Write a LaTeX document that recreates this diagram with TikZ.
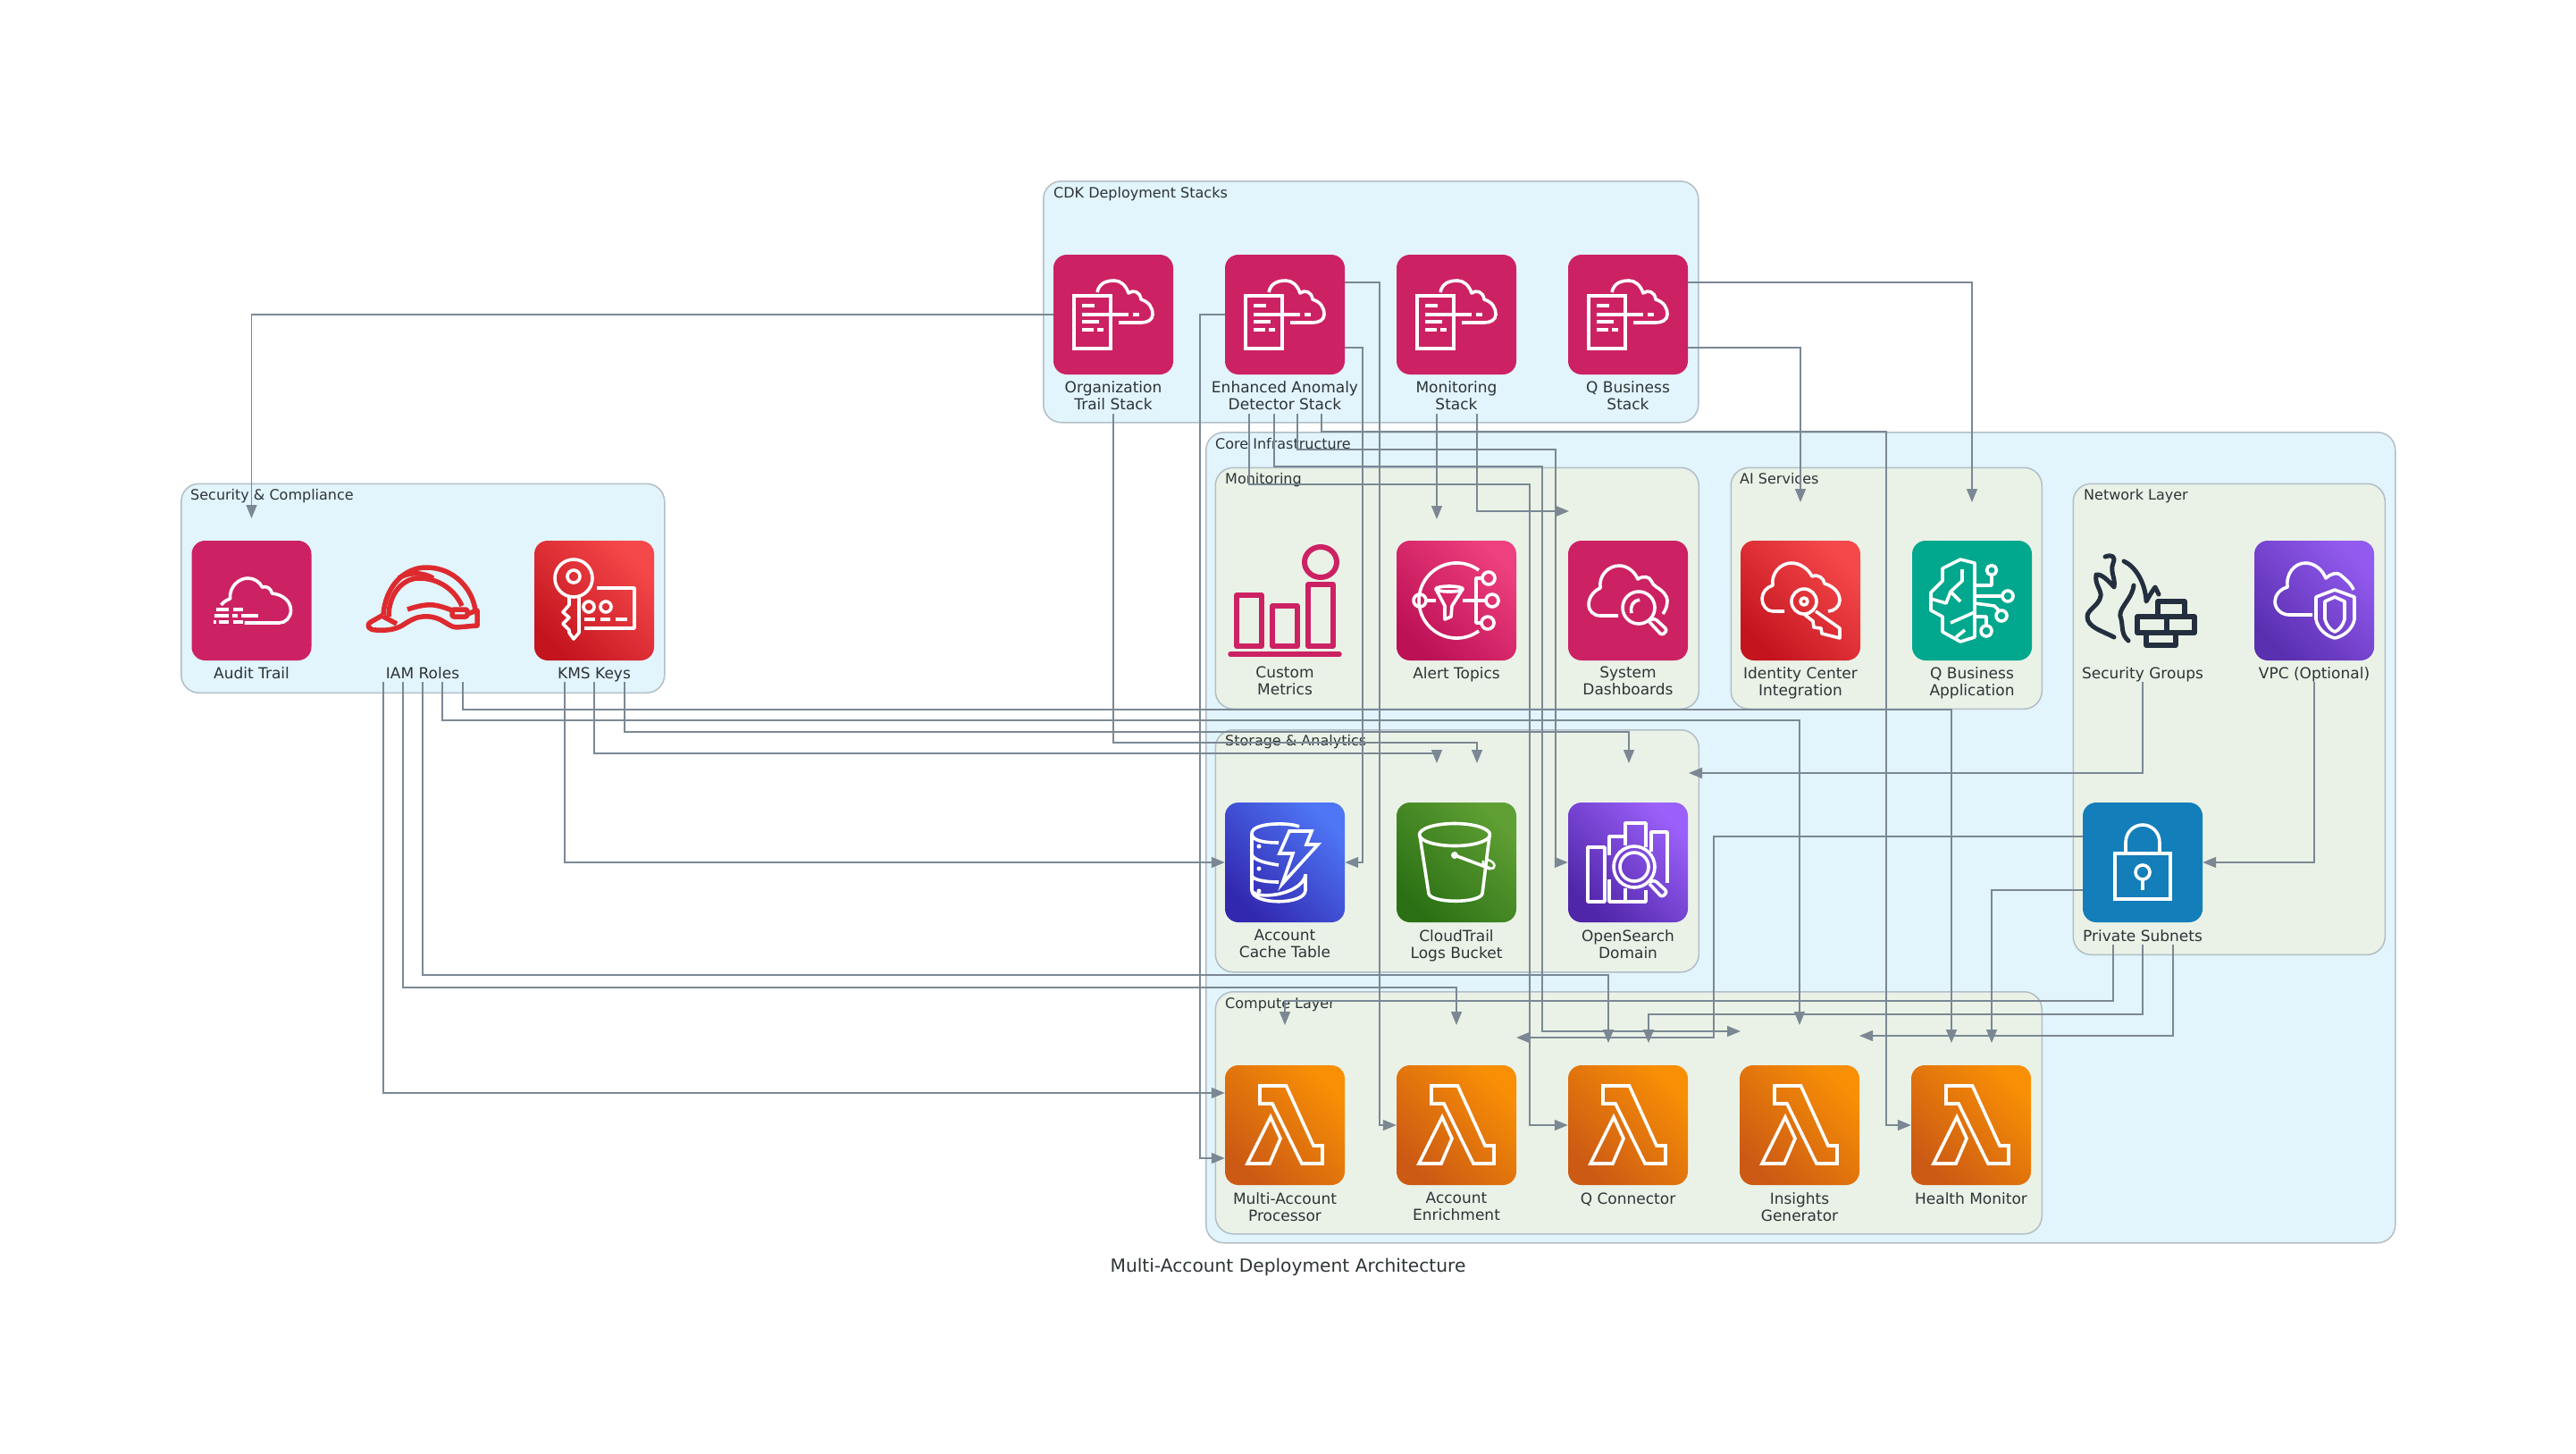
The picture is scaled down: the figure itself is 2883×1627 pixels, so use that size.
\documentclass[tikz,border=0pt]{standalone}
\usepackage{fontspec}
\setmainfont{DejaVu Sans}
\usetikzlibrary{arrows.meta}
\definecolor{linkgray}{HTML}{7B8894}
\definecolor{boxline}{HTML}{B2BEC6}
\definecolor{skyfill}{HTML}{E2F4FC}
\definecolor{sagefill}{HTML}{EAF2E7}
\definecolor{inktext}{HTML}{2D3436}
\definecolor{stackpink}{HTML}{CC2264}
\definecolor{qteal}{HTML}{01A88D}
\definecolor{lockblue}{HTML}{147EBA}
\definecolor{helmred}{HTML}{DD2A2E}
\definecolor{wallink}{HTML}{232F3E}
\definecolor{redlow}{HTML}{C4151F}
\definecolor{redhigh}{HTML}{F5484A}
\definecolor{pinklow}{HTML}{BD1156}
\definecolor{pinkhigh}{HTML}{EE3F7E}
\definecolor{vpclow}{HTML}{5A2FB0}
\definecolor{vpchigh}{HTML}{925AEE}
\definecolor{bluelow}{HTML}{3228B0}
\definecolor{bluehigh}{HTML}{4E76F5}
\definecolor{greenlow}{HTML}{2B7014}
\definecolor{greenhigh}{HTML}{5F9F34}
\definecolor{purplelow}{HTML}{5026A8}
\definecolor{purplehigh}{HTML}{9B60FA}
\definecolor{orangelow}{HTML}{CC5A14}
\definecolor{orangehigh}{HTML}{F88F05}
\tikzset{
	outerbox/.style={draw=boxline, fill=skyfill, line width=1.5pt, rounded corners=20pt, anchor=north west, inner sep=0pt},
	innerbox/.style={draw=boxline, fill=sagefill, line width=1.5pt, rounded corners=20pt, anchor=north west, inner sep=0pt},
	boxtitle/.style={text=inktext, anchor=base west, inner sep=0pt, font=\fontsize{16}{19}\selectfont},
	caption/.style={text=inktext, anchor=north, align=center, inner sep=0pt, font=\fontsize{17}{19}\selectfont,
		execute at begin node=\strut, execute at end node=\strut},
	flaticon/.style={rectangle, rounded corners=15pt, minimum size=134pt, inner sep=0pt, fill=#1},
	shadeicon/.style 2 args={rectangle, rounded corners=15pt, minimum size=134pt, inner sep=0pt,
		bottom color=#1, top color=#2, shading angle=-45},
	bareicon/.style={rectangle, minimum size=134pt, inner sep=0pt},
	glyph/.style={draw=white, line width=3.6pt, line join=round},
	link/.style={draw=linkgray, line width=1.4pt, -{Triangle[length=15pt,width=12pt]}},
	stackglyph/.pic={
		\draw[glyph, line join=miter] (-44,-21) rectangle (-3,38);
		\draw[glyph] (-35,-10) -- (-21,-10) (-35,0) -- (17,0) (22,0) -- (29,0) (-35,8) -- (-16,8)
			(-35,17) -- (-22,17) (-18,17) -- (-11,17);
		\draw[glyph] (-18,-25) .. controls (-16,-35) and (-8,-38) .. (1,-38) .. controls (8,-38) and (14,-33) .. (17,-24)
			.. controls (22,-28) and (30,-26) .. (31,-17) .. controls (40,-14) and (44,-8) .. (44,0)
			.. controls (44,6) and (38,9) .. (31,9) -- (6,9);
	},
	auditglyph/.pic={
		\draw[glyph] (-34,5) .. controls (-31,1) and (-27,-1) .. (-24,-2) .. controls (-25,-16) and (-14,-25) .. (-4,-25)
			.. controls (3,-25) and (9,-21) .. (12,-15) .. controls (17,-17) and (22,-13) .. (23,-8)
			.. controls (34,-7) and (44,0) .. (44,11) .. controls (44,19) and (38,25) .. (31,25) -- (-8,25);
		\draw[glyph] (-40,10) -- (-26,10) (-21,10) -- (-10,10) (-42,17) -- (-26,17) (-22,17) -- (-16,17) (-12,17) -- (7,17)
			(-43,24) -- (-40,24) (-37,24) -- (-26,24) (-21,24) -- (-10,24);
	},
	helmetglyph/.pic={
		\begin{scope}[line width=5.5pt, line join=round]
		\draw[helmred] (-44,16) .. controls (-42,-14) and (-22,-37) .. (4,-37) .. controls (36,-37) and (56,-12) .. (59,11);
		\draw[helmred] (-38,18) .. controls (-38,-8) and (-22,-25) .. (-4,-25) .. controls (18,-25) and (36,-12) .. (44,6);
		\draw[helmred] (-27,-25) .. controls (-16,-32) and (0,-32) .. (12,-25);
		\draw[helmred] (-17,10) .. controls (-6,6) and (6,4) .. (12,5) .. controls (20,6) and (28,9) .. (33,11);
		\draw[helmred, rounded corners=2pt] (33,10) rectangle (50,18);
		\draw[helmred] (-44,16) -- (-58,24) .. controls (-64,28) and (-60,33) .. (-52,33) .. controls (-40,34) and (-30,32) .. (-23,28)
			.. controls (-14,22) and (-6,18) .. (0,18) .. controls (8,17) and (14,19) .. (19,21) .. controls (27,25) and (32,30) .. (38,30)
			-- (61,28) -- (61,11) -- (50,15);
		\draw[helmred] (-44,18) -- (-29,26);
		\end{scope}
	},
	kmsglyph/.pic={
		\draw[glyph] (-23,-25) circle (21);
		\draw[glyph] (-23,-27) circle (7);
		\draw[glyph] (-28,-4) -- (-28,5) -- (-35,13) -- (-28,19) -- (-35,26) -- (-28,33) -- (-28,36) -- (-23,43) -- (-17,36) -- (-17,-4);
		\draw[glyph] (3,-14) -- (45,-14) -- (45,31) -- (-11,31);
		\draw[glyph] (-6,7) circle (6) (13,7) circle (6);
		\draw[glyph] (-11,21) -- (1,21) (7,21) -- (18,21) (24,21) -- (37,21);
	},
	metricsglyph/.pic={
		\draw[stackpink, line width=6pt] (40,-43) ellipse (18 and 17);
		\draw[stackpink, line width=5.5pt, line join=round] (-54,-6) rectangle (-26,51) (-14,6) rectangle (14,51) (26,-18) rectangle (54,51);
		\draw[stackpink, line width=5.5pt, line cap=round] (-61,60) -- (61,60);
	},
	alertglyph/.pic={
		\draw[glyph] (25,-34) .. controls (8.2,-46.3) and (-15.1,-44.3) .. (-29.7,-29.7)
			.. controls (-46.1,-13.3) and (-46.1,13.3) .. (-29.7,29.7)
			.. controls (-15.1,44.3) and (8.2,46.3) .. (25,34);
		\draw[glyph] (-41,0) circle (7);
		\draw[glyph] (-34,0) -- (-23,0);
		\draw[glyph] (-8,-13) ellipse (15 and 3);
		\draw[glyph] (-23,-13) -- (-13,6) -- (-13,21) -- (-6,18) -- (-5,6) -- (7,-13);
		\draw[glyph] (7,0) -- (33,0) (29,-25) -- (22,-25) -- (22,25) -- (28,25);
		\draw[glyph] (36,-25) circle (7) (40,0) circle (7) (35,25) circle (7);
	},
	dashglyph/.pic={
		\draw[glyph] (-11,17) -- (-31,17) .. controls (-39,17) and (-44,11) .. (-44,5) .. controls (-44,-4) and (-38,-11) .. (-31,-14)
			.. controls (-33,-28) and (-22,-39) .. (-10,-39) .. controls (-1,-39) and (7,-33) .. (11,-24)
			.. controls (17,-28) and (24,-27) .. (26,-22) .. controls (27,-19) and (29,-17) .. (32,-15)
			.. controls (39,-11) and (44,-5) .. (44,0) .. controls (44,6) and (42,11) .. (39,15);
		\draw[glyph] (12,8) circle (18);
		\draw[glyph] (4,14) .. controls (2,6) and (6,0) .. (13,-1);
		\draw[glyph, rounded corners=3pt] (24,22) -- (30,20) -- (44,33) -- (38,39) -- (24,24);
	},
	idcglyph/.pic={
		\draw[glyph] (-18,12) -- (-31,12) .. controls (-38,12) and (-43,5) .. (-43,-2) .. controls (-43,-9) and (-38,-15) .. (-31,-17)
			.. controls (-33,-31) and (-22,-42) .. (-10,-42) .. controls (0,-42) and (9,-35) .. (13,-27)
			.. controls (20,-30) and (26,-25) .. (27,-19) .. controls (37,-16) and (44,-9) .. (44,0) .. controls (44,6) and (38,12) .. (31,12);
		\draw[glyph] (4,1) circle (14);
		\draw[glyph] (4,1) circle (4);
		\draw[glyph] (17,12) -- (44,31) -- (44,42) -- (24,37) -- (23,31) -- (15,30) -- (14,23) -- (5,16);
	},
	brainglyph/.pic={
		\draw[glyph] (3,-42) -- (-13,-46) -- (-33,-36) -- (-33,-22) -- (-46,-9) -- (-46,11) -- (-33,18) -- (-33,35) -- (-13,46) -- (3,41) -- cycle;
		\draw[glyph] (-11,-35) -- (-11,-22) -- (-24,-10) -- (-13,1) (-24,-10) -- (-29,3) -- (-46,-2);
		\draw[glyph] (3,13) -- (-24,25) (-8,33) -- (-18,41);
		\draw[glyph] (3,-17) -- (22,-17) -- (22,-28) (3,-5) -- (34,-5) (3,3) -- (25,6) -- (30,11) (3,18) -- (16,18) -- (16,28);
		\draw[glyph] (22,-34) circle (5.5) (40,-5) circle (6) (33,17) circle (6) (16,34) circle (6);
	},
	flameglyph/.pic={
		\begin{scope}[line cap=round, line join=round]
		\draw[wallink, line width=5pt] (-42,-49) .. controls (-34,-52) and (-30,-49) .. (-33,-42) .. controls (-37,-32) and (-30,-25) .. (-32,-15)
			.. controls (-38,-22) and (-46,-30) .. (-52,-29) .. controls (-54,-18) and (-46,-12) .. (-47,-5)
			.. controls (-49,6) and (-62,10) .. (-62,18) .. controls (-62,30) and (-45,34) .. (-32,41);
		\draw[wallink, line width=5pt] (-21,-44) .. controls (-8,-38) and (3,-20) .. (4,1) .. controls (7,-4) and (10,-10) .. (14,-15) .. controls (15,-12) and (17,-10) .. (18,-7);
		\draw[wallink, line width=5pt] (-10,-17) .. controls (-12,0) and (-30,10) .. (-24,21) .. controls (-22,30) and (-24,38) .. (-16,45);
		\draw[wallink, line width=5.5pt] (17,1) rectangle (47,18) (-6,18) rectangle (27,36) (27,18) rectangle (58,36) (4,36) rectangle (37,50);
		\end{scope}
	},
	vpcglyph/.pic={
		\draw[glyph] (-2,16) -- (-28,16) .. controls (-37,16) and (-44,9) .. (-44,1) .. controls (-44,-6) and (-38,-13) .. (-30,-15)
			.. controls (-32,-30) and (-22,-42) .. (-10,-42) .. controls (0,-42) and (9,-35) .. (13,-25)
			.. controls (18,-30) and (26,-32) .. (29,-29) .. controls (35,-24) and (42,-18) .. (44,-12);
		\draw[glyph] (23,-12) -- (2,-4) -- (2,21) .. controls (4,32) and (14,40) .. (23,42) .. controls (33,40) and (43,32) .. (45,21) -- (45,-4) -- cycle;
		\draw[glyph] (23,-4) -- (12,1) -- (12,21) .. controls (14,28) and (18,33) .. (23,35) .. controls (28,33) and (32,28) .. (34,21) -- (34,1) -- cycle;
	},
	lockglyph/.pic={
		\draw[glyph, line join=miter] (-31,-10) rectangle (31,41);
		\draw[glyph] (-19,-12) -- (-19,-22) .. controls (-19,-34) and (-10,-42) .. (0,-42) .. controls (10,-42) and (19,-34) .. (19,-22) -- (19,-12);
		\draw[glyph] (0,11) ellipse (8 and 8);
		\draw[glyph] (0,19) -- (0,31);
	},
	dynamoglyph/.pic={
		\draw[glyph] (16,-40) .. controls (6,-45) and (-38,-45) .. (-37,-32) -- (-37,31) .. controls (-37,48) and (23,48) .. (23,31) -- (23,13);
		\draw[glyph] (-37,-32) .. controls (-37,-24) and (-22,-22) .. (-7,-22);
		\draw[glyph] (-37,-9) .. controls (-35,-2) and (-20,1) .. (-7,3);
		\draw[glyph] (-37,15) .. controls (-35,20) and (-20,22) .. (-7,22);
		\draw[glyph] (-37,31) .. controls (-35,42) and (16,38) .. (23,15);
		\draw[glyph, line join=miter] (5,-35) -- (30,-35) -- (24,-20) -- (37,-20) -- (-3,24) -- (9,-10) -- (-6,-10) -- cycle;
		\fill[white] (-29,-18) circle (2.5) (-29,7) circle (2.5) (-29,32) circle (2.5);
	},
	bucketglyph/.pic={
		\draw[glyph] (-2,-31) ellipse (39.5 and 12.5);
		\draw[glyph] (-41,-30) -- (-31,35) .. controls (-28,46) and (26,46) .. (29,35) -- (37,-30);
		\fill[white] (-2,-8) circle (4);
		\draw[glyph] (-2,-8) -- (38,7);
		\draw[white, line width=2.5pt] (35,-3) .. controls (45,0) and (44,8) .. (38,7) .. controls (33,6) and (28,2) .. (30,-2);
	},
	searchglyph/.pic={
		\draw[glyph] (-45,-17) rectangle (-26,44);
		\draw[glyph] (-21,-8) -- (-21,-29) -- (-3,-29) -- (-3,-19);
		\draw[glyph] (-3,-19) -- (-3,-44) -- (20,-44) -- (20,-17);
		\draw[glyph] (26,-12) -- (26,-34) -- (44,-34) -- (44,23);
		\draw[glyph] (-21,19) -- (-21,44) -- (-3,44) -- (-3,29);
		\draw[glyph] (-3,29) -- (-3,44) -- (20,44) -- (20,31);
		\draw[glyph] (7,5) circle (23);
		\draw[glyph] (7,5) circle (16);
		\draw[glyph, rounded corners=3pt] (24,22) -- (30,20) -- (44,33) -- (38,39) -- (24,24);
	},
	lambdaglyph/.pic={
		\draw[glyph, line join=miter] (-28,-44) -- (1.5,-44) -- (32,23) -- (42,23) -- (42,43) -- (19,43) -- (-14,-24) -- (-28,-24) -- cycle;
		\draw[glyph, line join=miter] (-16,-9) -- (-5,15) -- (-17,43) -- (-42,43) -- cycle;
	},
}
\begin{document}
\begin{tikzpicture}[x=1pt,y=-1pt]
	\useasboundingbox (0,0) rectangle (2883,1627);
	% groups
	\node[outerbox, minimum width=733pt, minimum height=270pt] (cdkbox) at (1167,202) {};
	\node[outerbox, minimum width=1331pt, minimum height=907pt] (corebox) at (1349,483) {};
	\node[outerbox, minimum width=541pt, minimum height=234pt] (secbox) at (202,540.5) {};
	\node[innerbox, minimum width=541pt, minimum height=270pt] (monbox) at (1359.5,522.5) {};
	\node[innerbox, minimum width=348pt, minimum height=270pt] (aibox) at (1936.5,522.5) {};
	\node[innerbox, minimum width=349pt, minimum height=527pt] (netbox) at (2319.5,540.5) {};
	\node[innerbox, minimum width=541pt, minimum height=271pt] (storebox) at (1359.5,816) {};
	\node[innerbox, minimum width=925pt, minimum height=271pt] (compbox) at (1359.5,1109) {};
	\node[boxtitle] (cdktitle) at (1179,221) {CDK Deployment Stacks};
	\node[boxtitle] (coretitle) at (1360,502) {Core Infrastructure};
	\node[boxtitle] (sectitle) at (213,559) {Security \& Compliance};
	\node[boxtitle] (montitle) at (1371,541) {Monitoring};
	\node[boxtitle] (aititle) at (1947,541) {AI Services};
	\node[boxtitle] (nettitle) at (2332,559) {Network Layer};
	\node[boxtitle] (storetitle) at (1371,834) {Storage \& Analytics};
	\node[boxtitle] (comptitle) at (1371,1128) {Compute Layer};
	% deployment stacks
	\node[flaticon=stackpink] (orgstack) at (1246,352) {};
	\node[flaticon=stackpink] (anomstack) at (1438,352) {};
	\node[flaticon=stackpink] (monstack) at (1630,352) {};
	\node[flaticon=stackpink] (qstack) at (1822,352) {};
	\pic at (orgstack) {stackglyph};
	\pic at (anomstack) {stackglyph};
	\pic at (monstack) {stackglyph};
	\pic at (qstack) {stackglyph};
	\node[caption] (orgcap) at (1246,426) {Organization\\Trail Stack};
	\node[caption] (anomcap) at (1438,426) {Enhanced Anomaly\\Detector Stack};
	\node[caption] (moncap) at (1630,426) {Monitoring\\Stack};
	\node[caption] (qcap) at (1822,426) {Q Business\\Stack};
	% security
	\node[flaticon=stackpink] (audit) at (281.5,672) {};
	\node[bareicon] (iam) at (473,672) {};
	\node[shadeicon={redlow}{redhigh}] (kms) at (665,672) {};
	\pic at (audit) {auditglyph};
	\pic at (iam) {helmetglyph};
	\pic at (kms) {kmsglyph};
	\node[caption] (auditcap) at (281.5,746) {Audit Trail};
	\node[caption] (iamcap) at (473,746) {IAM Roles};
	\node[caption] (kmscap) at (665,746) {KMS Keys};
	% monitoring and ai
	\node[bareicon] (metrics) at (1438,672) {};
	\node[shadeicon={pinklow}{pinkhigh}] (alerts) at (1630,672) {};
	\node[flaticon=stackpink] (dashboards) at (1822,672) {};
	\node[shadeicon={redlow}{redhigh}] (idc) at (2015,672) {};
	\node[flaticon=qteal] (qapp) at (2207,672) {};
	\pic at (metrics) {metricsglyph};
	\pic at (alerts) {alertglyph};
	\pic at (dashboards) {dashglyph};
	\pic at (idc) {idcglyph};
	\pic at (qapp) {brainglyph};
	\node[caption] (metricscap) at (1438,746) {Custom\\Metrics};
	\node[caption] (alertscap) at (1630,746) {Alert Topics};
	\node[caption] (dashboardscap) at (1822,746) {System\\Dashboards};
	\node[caption] (idccap) at (2015,746) {Identity Center\\Integration};
	\node[caption] (qappcap) at (2207,746) {Q Business\\Application};
	% network
	\node[bareicon] (sgroups) at (2398,672) {};
	\node[shadeicon={vpclow}{vpchigh}] (vpc) at (2590,672) {};
	\node[flaticon=lockblue] (subnets) at (2398,965) {};
	\pic at (sgroups) {flameglyph};
	\pic at (vpc) {vpcglyph};
	\pic at (subnets) {lockglyph};
	\node[caption] (sgroupscap) at (2398,746) {Security Groups};
	\node[caption] (vpccap) at (2590,746) {VPC (Optional)};
	\node[caption] (subnetscap) at (2398,1040) {Private Subnets};
	% storage
	\node[shadeicon={bluelow}{bluehigh}] (cache) at (1438,965) {};
	\node[shadeicon={greenlow}{greenhigh}] (bucket) at (1630,965) {};
	\node[shadeicon={purplelow}{purplehigh}] (search) at (1822,965) {};
	\pic at (cache) {dynamoglyph};
	\pic at (bucket) {bucketglyph};
	\pic at (search) {searchglyph};
	\node[caption] (cachecap) at (1438,1040) {Account\\Cache Table};
	\node[caption] (bucketcap) at (1630,1040) {CloudTrail\\Logs Bucket};
	\node[caption] (searchcap) at (1822,1040) {OpenSearch\\Domain};
	% lambdas
	\node[shadeicon={orangelow}{orangehigh}] (multi) at (1438,1259) {};
	\node[shadeicon={orangelow}{orangehigh}] (enrich) at (1630,1259) {};
	\node[shadeicon={orangelow}{orangehigh}] (qconn) at (1822,1259) {};
	\node[shadeicon={orangelow}{orangehigh}] (insights) at (2014,1259) {};
	\node[shadeicon={orangelow}{orangehigh}] (health) at (2206,1259) {};
	\pic at (multi) {lambdaglyph};
	\pic at (enrich) {lambdaglyph};
	\pic at (qconn) {lambdaglyph};
	\pic at (insights) {lambdaglyph};
	\pic at (health) {lambdaglyph};
	\node[caption] (multicap) at (1438,1334) {Multi-Account\\Processor};
	\node[caption] (enrichcap) at (1630,1334) {Account\\Enrichment};
	\node[caption] (qconncap) at (1822,1334) {Q Connector};
	\node[caption] (insightscap) at (2014,1334) {Insights\\Generator};
	\node[caption] (healthcap) at (2206,1334) {Health Monitor};
	\node[text=inktext, inner sep=0pt, font=\fontsize{20.2}{24}\selectfont] (charttitle) at (1441.5,1417.5) {Multi-Account Deployment Architecture};
	% free arrow ends
	\coordinate (audittip) at (281.5,580);
	\coordinate (alerttip) at (1608,581);
	\coordinate (dashtip) at (1756,572);
	\coordinate (idctip) at (2015,562);
	\coordinate (qapptip) at (2207,562);
	\coordinate (bucketa) at (1653,854);
	\coordinate (bucketb) at (1608,854);
	\coordinate (searcha) at (1823,854);
	\coordinate (searchb) at (1890,865);
	\coordinate (multitip) at (1438,1147);
	\coordinate (enricha) at (1630,1147);
	\coordinate (enrichb) at (1697,1161);
	\coordinate (qconna) at (1800,1167);
	\coordinate (qconnb) at (1845,1167);
	\coordinate (insightsa) at (2014,1147);
	\coordinate (insightsb) at (1948,1154);
	\coordinate (insightsc) at (2081,1159);
	\coordinate (healtha) at (2184,1167);
	\coordinate (healthb) at (2229,1167);
	% connectors
	\draw[link] (orgstack.west) -| (audittip);
	\draw[link] ([shift={(0,44)}]orgstack.south) |- (1653,831) -- (bucketa);
	\draw[link] ([shift={(34,24)}]kms.south) |- (1823,819) -- (searcha);
	\draw[link] ([shift={(0,24)}]kms.south) |- (1608,843) -- (bucketb);
	\draw[link] ([shift={(-33,24)}]kms.south) |- (cache.west);
	\draw[link] ([shift={(45,24)}]iam.south) |- (2184,794) -- (healtha);
	\draw[link] ([shift={(22,24)}]iam.south) |- (2014,806) -- (insightsa);
	\draw[link] ([shift={(0,24)}]iam.south) |- (1800,1091) -- (qconna);
	\draw[link] ([shift={(-22,24)}]iam.south) |- (1630,1105) -- (enricha);
	\draw[link] ([shift={(-44,24)}]iam.south) |- ([yshift=36pt]multi.west);
	\draw[link] ([yshift=36pt]anomstack.east) -- (1544,316) |- (enrich.west);
	\draw[link] ([yshift=-37pt]anomstack.east) -- (1525,389) |- (cache.east);
	\draw[link] (anomstack.west) -- (1343,352) |- ([yshift=-37pt]multi.west);
	\draw[link] ([shift={(41,44)}]anomstack.south) |- (2111,483) |- (health.west);
	\draw[link] ([shift={(14,44)}]anomstack.south) |- (1741,503) |- (search.west);
	\draw[link] ([shift={(-12,44)}]anomstack.south) |- (1726,522) |- (insightsb);
	\draw[link] ([shift={(-40,44)}]anomstack.south) |- (1712,542) |- (qconn.west);
	\draw[link] ([shift={(-22,44)}]monstack.south) -- (alerttip);
	\draw[link] ([shift={(23,44)}]monstack.south) |- (dashtip);
	\draw[link] ([yshift=36pt]qstack.east) -| (qapptip);
	\draw[link] ([yshift=-37pt]qstack.east) -| (idctip);
	\draw[link] ([shift={(0,24)}]sgroups.south) |- (searchb);
	\draw[link] ([shift={(0,24)}]vpc.south) |- (subnets.east);
	\draw[link] ([yshift=29pt]subnets.west) -- (1918,936) |- (enrichb);
	\draw[link] ([yshift=-31pt]subnets.west) -| (healthb);
	\draw[link] ([shift={(-33,25)}]subnets.south) |- (1438,1120) -- (multitip);
	\draw[link] ([shift={(0,25)}]subnets.south) |- (1845,1135) -- (qconnb);
	\draw[link] ([shift={(34,25)}]subnets.south) |- (insightsc);
\end{tikzpicture}
\end{document}
